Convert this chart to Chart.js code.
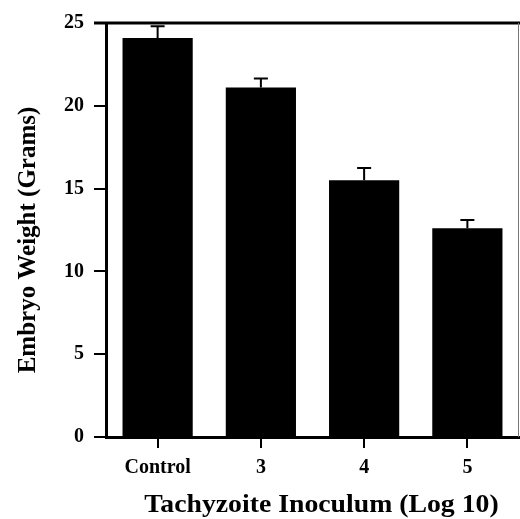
<!DOCTYPE html>
<html>
<head>
<meta charset="utf-8">
<script src="https://cdn.jsdelivr.net/npm/chart.js@4"></script>
<style>
  body { margin: 0; background: #fff; }
  #wrap { width: 520px; height: 519px; }
</style>
</head>
<body>
<div id="wrap"><canvas id="embryoChart"></canvas></div>
<script>
// values
const categories = ['Control', '3', '4', '5'];
const weights = [24.1, 21.1, 15.5, 12.6];
const errors = [0.7, 0.55, 0.75, 0.5];
const yTicks = [0, 5, 10, 15, 20, 25];
const xTitle = 'Tachyzoite Inoculum (Log 10)';
const yTitle = 'Embryo Weight (Grams)';

const serif = "'Liberation Serif', 'Times New Roman', serif";

// upward-only error bars, T shaped
const errorBars = {
    id: 'errorBars',
    afterDatasetsDraw(chart) {
        const ctx = chart.ctx;
        const meta = chart.getDatasetMeta(0);
        const y = chart.scales.y;
        ctx.save();
        ctx.strokeStyle = '#000';
        ctx.lineWidth = 2;
        meta.data.forEach((bar, i) => {
            const top = y.getPixelForValue(weights[i] + errors[i]);
            const base = y.getPixelForValue(weights[i]);
            ctx.beginPath();
            ctx.moveTo(bar.x, base);
            ctx.lineTo(bar.x, top);
            ctx.moveTo(bar.x - 7, top);
            ctx.lineTo(bar.x + 7, top);
            ctx.stroke();
        });
        ctx.restore();
    }
};

// top line, thin right edge, and the two axis titles (the x one is a bit stretched in the original)
const frame = {
    id: 'frame',
    afterDraw(chart) {
        const ctx = chart.ctx;
        const a = chart.chartArea;
        ctx.save();
        ctx.strokeStyle = '#000';
        ctx.lineWidth = 3;
        ctx.beginPath();
        ctx.moveTo(a.left - 12, a.top);
        ctx.lineTo(a.right + 1, a.top);
        ctx.stroke();
        ctx.strokeStyle = '#777';
        ctx.lineWidth = 1;
        ctx.beginPath();
        ctx.moveTo(a.right - 0.5, a.top);
        ctx.lineTo(a.right - 0.5, a.bottom);
        ctx.stroke();

        ctx.fillStyle = '#000';
        ctx.font = 'bold 25px ' + serif;
        ctx.textAlign = 'center';
        ctx.textBaseline = 'alphabetic';
        ctx.save();
        ctx.translate((a.left + a.right) / 2 + 9, a.bottom + 75);
        ctx.scale(1.11, 1);
        ctx.fillText(xTitle, 0, 0);
        ctx.restore();

        ctx.save();
        ctx.textBaseline = 'middle';
        ctx.translate(29, (a.top + a.bottom) / 2 + 10);
        ctx.rotate(-Math.PI / 2);
        ctx.fillText(yTitle, 0, 0);
        ctx.restore();
        ctx.restore();
    }
};

const ctx = document.getElementById('embryoChart').getContext('2d');
new Chart(ctx, {
    type: 'bar',
    data: {
        labels: categories,
        datasets: [{
            data: weights,
            backgroundColor: '#000',
            borderWidth: 0,
            barPercentage: 0.68,
            categoryPercentage: 1
        }]
    },
    options: {
        responsive: true,
        maintainAspectRatio: false,
        animation: false,
        layout: { padding: { top: 23, right: 1, left: 0, bottom: 0 } },
        plugins: {
            legend: { display: false },
            tooltip: { enabled: false }
        },
        scales: {
            x: {
                grid: {
                    offset: false,
                    drawOnChartArea: false,
                    tickLength: 11,
                    color: '#000',
                    lineWidth: 2
                },
                border: { color: '#000', width: 3 },
                ticks: {
                    color: '#000',
                    padding: 8,
                    font: { family: serif, size: 20, weight: 'bold' }
                },
                afterFit(scale) { scale.height = 82; }
            },
            y: {
                min: 0,
                max: 25,
                afterBuildTicks(scale) {
                    scale.ticks = yTicks.map(v => ({ value: v }));
                },
                grid: {
                    drawOnChartArea: false,
                    tickLength: 12,
                    color: '#000',
                    lineWidth: 2
                },
                border: { color: '#000', width: 3 },
                ticks: {
                    color: '#000',
                    padding: 10,
                    font: { family: serif, size: 20, weight: 'bold' }
                },
                afterFit(scale) { scale.width = 106; }
            }
        }
    },
    plugins: [errorBars, frame]
});
</script>
</body>
</html>
